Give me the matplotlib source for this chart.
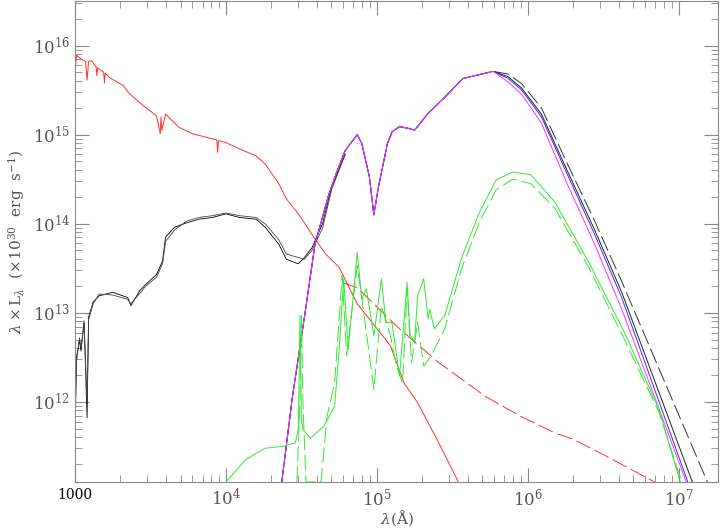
import numpy as np
import matplotlib
matplotlib.use("Agg")
import matplotlib.pyplot as plt

plt.rcParams['font.family'] = ['DejaVu Serif']
plt.rcParams['mathtext.fontset'] = 'dejavuserif'

# data in log10 units: log10(lambda [A]), log10(lambda L_lambda)
red_x = [3.00, 3.01, 3.04, 3.07, 3.08, 3.09, 3.11, 3.14, 3.145, 3.15, 3.19, 3.195, 3.20, 3.23, 3.32, 3.36, 3.45, 3.54, 3.565, 3.57, 3.575, 3.60, 3.69, 3.78, 3.87, 3.94, 3.945, 3.95, 3.96, 4.00, 4.09, 4.20, 4.26, 4.35, 4.40, 4.48, 4.57, 4.66, 4.75, 4.87, 4.95, 5.09, 5.18, 5.27, 5.41, 5.54]
red_y = [15.70, 15.89, 15.85, 15.82, 15.61, 15.82, 15.83, 15.76, 15.66, 15.75, 15.70, 15.58, 15.69, 15.64, 15.55, 15.46, 15.33, 15.21, 15.01, 15.20, 15.05, 15.23, 15.08, 15.01, 14.97, 14.94, 14.80, 14.93, 14.93, 14.91, 14.84, 14.76, 14.67, 14.45, 14.28, 14.11, 13.88, 13.66, 13.51, 13.10, 12.93, 12.63, 12.21, 11.99, 11.54, 11.10]
redd_x = [4.77, 4.87, 4.95, 5.13, 5.41, 5.72, 5.95, 6.18, 6.30, 6.52, 6.84]
redd_y = [13.34, 13.28, 13.15, 12.85, 12.44, 12.06, 11.84, 11.65, 11.58, 11.39, 11.10]

blk_x = [3.00, 3.01, 3.03, 3.04, 3.06, 3.08, 3.09, 3.12, 3.16, 3.25, 3.35, 3.37, 3.43, 3.47, 3.54, 3.58, 3.60, 3.66, 3.74, 3.82, 3.91, 4.00, 4.09, 4.20, 4.26, 4.35, 4.40, 4.48, 4.52, 4.57, 4.64, 4.70, 4.79]
blk_y = [11.64, 12.50, 12.69, 12.57, 12.91, 11.82, 12.95, 13.12, 13.19, 13.23, 13.17, 13.08, 13.25, 13.32, 13.43, 13.58, 13.85, 13.96, 14.01, 14.05, 14.07, 14.11, 14.07, 14.05, 13.96, 13.77, 13.60, 13.55, 13.62, 13.73, 14.00, 14.41, 14.78]
blk2_y = [11.70, 12.45, 12.72, 12.60, 12.88, 12.00, 12.92, 13.10, 13.21, 13.20, 13.15, 13.10, 13.22, 13.30, 13.40, 13.55, 13.80, 13.93, 14.03, 14.07, 14.09, 14.12, 14.09, 14.07, 14.00, 13.82, 13.66, 13.62, 13.60, 13.70, 13.95, 14.38, 14.78]

dust_x = [4.37, 4.44, 4.52, 4.59, 4.68, 4.73, 4.79, 4.87, 4.90, 4.95, 4.98, 5.01, 5.07, 5.10, 5.15, 5.21, 5.25, 5.34, 5.45, 5.57, 5.77]
dust_y = [11.10, 12.05, 12.95, 13.77, 14.32, 14.56, 14.82, 15.00, 14.90, 14.53, 14.10, 14.41, 14.90, 15.03, 15.09, 15.07, 15.05, 15.24, 15.42, 15.63, 15.71]
tail_x = [5.87, 5.96, 6.09, 6.26, 6.44, 6.62]
tail_blue = [15.63, 15.50, 15.20, 14.56, 13.89, 13.18]
tail_blk = [15.65, 15.52, 15.23, 14.60, 13.94, 13.24]
tail_mag = [15.59, 15.45, 15.13, 14.45, 13.78, 13.05]
tail_blkd = [15.68, 15.57, 15.30, 14.68, 14.04, 13.36]
end_blue, end_blk, end_mag, end_blkd = 7.06, 7.09, 7.05, 7.19

grn_x = [4.00, 4.13, 4.26, 4.38, 4.46, 4.48, 4.49, 4.50, 4.51, 4.56, 4.65, 4.72, 4.75, 4.78, 4.81, 4.87, 4.90, 4.93, 4.98, 5.03, 5.06, 5.10, 5.15, 5.20, 5.22, 5.25, 5.27, 5.31, 5.34, 5.35, 5.38, 5.45, 5.56, 5.68, 5.79, 5.90, 6.02, 6.18, 6.39, 6.64, 6.87, 7.01]
grn_y = [11.10, 11.35, 11.48, 11.50, 11.54, 11.70, 12.97, 11.80, 11.69, 11.59, 11.73, 11.95, 12.59, 13.38, 12.59, 13.68, 13.15, 13.27, 12.74, 13.38, 12.89, 12.89, 12.29, 13.34, 12.75, 12.67, 13.19, 13.38, 12.93, 13.04, 12.82, 12.97, 13.61, 14.13, 14.49, 14.58, 14.55, 14.24, 13.61, 12.78, 11.91, 11.10]
grnd_x = [4.47, 4.49, 4.50, 4.51, 4.53, 4.63, 4.67, 4.72, 4.77, 4.80, 4.87, 4.91, 4.98, 5.03, 5.09, 5.13, 5.17, 5.20, 5.23, 5.27, 5.31, 5.36, 5.45, 5.56, 5.68, 5.79, 5.90, 6.02, 6.18, 6.41, 6.64, 6.87, 7.02]
grnd_y = [11.10, 12.00, 12.97, 12.00, 11.10, 11.10, 11.84, 12.21, 13.42, 12.52, 13.53, 13.04, 12.14, 13.08, 12.74, 12.40, 12.21, 13.27, 12.44, 12.89, 12.40, 12.52, 12.82, 13.49, 14.02, 14.38, 14.50, 14.45, 14.17, 13.49, 12.70, 11.88, 11.10]

fig = plt.figure(figsize=(7.2, 5.28), dpi=100)
ax = fig.add_axes([75/720, 1-482/528, 643/720, 481/528])
p = lambda a: 10**np.asarray(a)
dsh = (16, 5)

ax.plot(p(red_x), p(red_y), color='#ff3030', lw=0.7)
ax.plot(p(redd_x), p(redd_y), color='#ff3030', lw=0.7, dashes=dsh)
ax.plot(p(blk_x), p(blk_y), color='black', lw=0.6)
ax.plot(p(blk_x), p(blk2_y), color='#444444', lw=0.6)
ax.plot(p(dust_x + tail_x + [end_blkd]), p(dust_y + tail_blkd + [11.1]), color='#333333', lw=0.7, dashes=dsh)
ax.plot(p(dust_x + tail_x + [end_blk]), p(dust_y + tail_blk + [11.1]), color='#222222', lw=0.7)
ax.plot(p(dust_x + tail_x + [end_blue]), p(dust_y + tail_blue + [11.1]), color='#3030ff', lw=0.7)
ax.plot(p(dust_x + tail_x + [end_mag]), p(dust_y + tail_mag + [11.1]), color='#ff30ff', lw=0.7)
ax.plot(p(grn_x), p(grn_y), color='#30e830', lw=0.7)
ax.plot(p(grnd_x), p(grnd_y), color='#30e830', lw=0.7, dashes=dsh)

ax.set_xscale('log'); ax.set_yscale('log')
ax.set_xlim(1000, 10**7.26)
ax.set_ylim(10**11.1, 10**16.5)
for s in ax.spines.values():
    s.set_color('#888888')
ax.tick_params(which='both', direction='in', top=True, right=True, colors='#888888', labelcolor='#555555', labelsize=12)
ax.tick_params(which='major', length=10)
ax.tick_params(which='minor', length=5)
ax.tick_params(axis='x', pad=4)
ax.set_xticks([1000, 1e4, 1e5, 1e6, 1e7])
ax.set_xticklabels(['1000', r'$10^4$', r'$10^5$', r'$10^6$', r'$10^7$'])
ax.get_xticklabels()[0].set_color('black')
ax.get_xticklabels()[0].set_fontsize(10)
ax.set_yticks([1e12, 1e13, 1e14, 1e15, 1e16])
ax.set_xlabel(r'$\lambda(\mathrm{\AA})$', color='#555555', fontsize=11, labelpad=-1)
ax.set_ylabel(r'$\lambda\times\mathrm{L}_\lambda$  ($\times10^{30}$  erg  s$^{-1}$)', color='#555555', fontsize=11)
fig.savefig('out.png', dpi=100)
